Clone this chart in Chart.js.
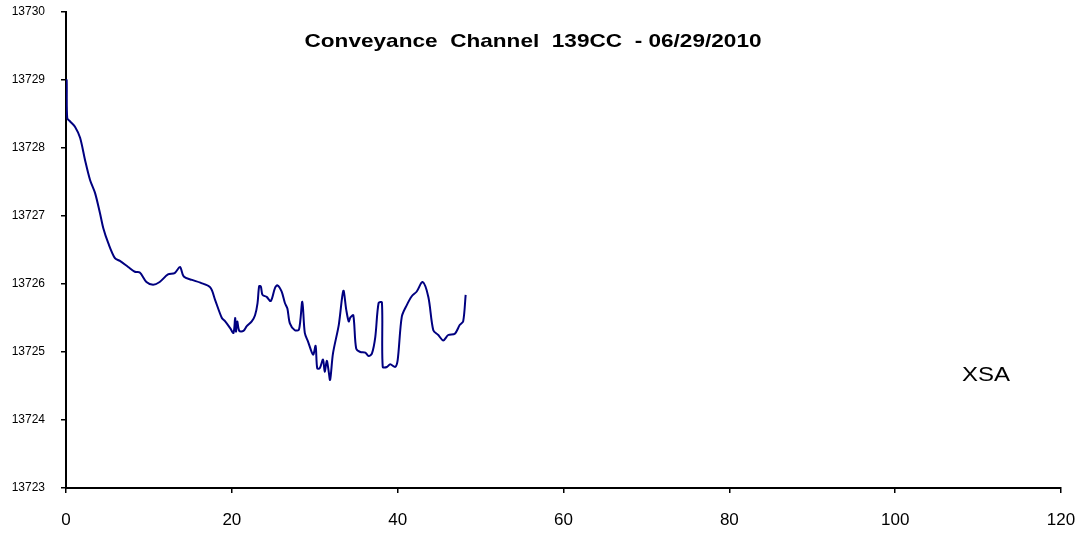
<!DOCTYPE html>
<html>
<head>
<meta charset="utf-8">
<script src="https://cdn.jsdelivr.net/npm/chart.js@4/dist/chart.umd.min.js"></script>
<style>
  html, body { margin: 0; padding: 0; background: #fff; }
  #wrap { width: 1086px; height: 533px; }
</style>
</head>
<body>
<div id="wrap"><canvas id="chart"></canvas></div>
<script>
// distance (x) and elevation (y)
const stations = [0, 0.08, 0.15, 0.5, 1.1, 1.7, 2.3, 2.9, 3.5, 4.1, 4.5, 5.1, 5.9, 6.5, 7.5, 8.3, 8.9, 9.7, 10.5, 11.3, 12.3, 13.1, 13.75, 14.2, 15.2, 16.2, 17.4,
  18.0, 18.8, 19.2, 19.8, 20.2, 20.4, 20.5, 20.65, 20.9, 21.4, 21.8, 22.4, 22.8, 23.1, 23.3, 23.5, 23.7, 24.2, 24.7, 25.2, 25.5, 26.0, 26.4, 26.7, 27.0, 27.6, 28.1,
  28.5, 28.8, 29.2, 29.8, 30.1, 30.3, 30.6, 31.0, 31.2, 31.45, 31.65, 31.85, 32.2, 32.9, 33.45, 33.8, 34.1, 34.3, 34.65, 35.0, 35.5, 36.1, 36.5, 36.9, 37.3,
  37.7, 38.1, 38.2, 38.7, 39.1, 39.7, 40.0, 40.5, 41.1, 41.7, 42.3, 43.0, 43.7, 44.3, 44.9, 45.5, 46.1, 46.9, 47.5, 47.9, 48.2];
const elevations = [13729.0, 13729.0, 13728.44, 13728.39, 13728.31, 13728.15, 13727.82, 13727.53, 13727.34, 13727.04, 13726.82, 13726.6, 13726.38, 13726.34, 13726.25, 13726.18, 13726.17, 13726.03, 13725.99, 13726.03, 13726.14, 13726.16, 13726.25, 13726.11, 13726.06, 13726.02, 13725.95,
  13725.76, 13725.5, 13725.45, 13725.35, 13725.28, 13725.5, 13725.3, 13725.45, 13725.31, 13725.31, 13725.38, 13725.45, 13725.54, 13725.72, 13725.97, 13725.96, 13725.84, 13725.81, 13725.75, 13725.94, 13725.98, 13725.89, 13725.72, 13725.64, 13725.42, 13725.32, 13725.33,
  13725.74, 13725.28, 13725.15, 13724.96, 13725.09, 13724.76, 13724.76, 13724.89, 13724.71, 13724.87, 13724.74, 13724.59, 13724.98, 13725.4, 13725.9, 13725.62, 13725.45, 13725.51, 13725.54, 13725.05, 13725.0, 13724.99, 13724.94, 13724.98, 13725.22,
  13725.72, 13725.73, 13724.78, 13724.78, 13724.82, 13724.78, 13724.88, 13725.52, 13725.69, 13725.82, 13725.89, 13726.03, 13725.81, 13725.32, 13725.25, 13725.17, 13725.25, 13725.27, 13725.4, 13725.45, 13725.84];

const titleText = 'Conveyance  Channel  139CC  - 06/29/2010';
const seriesLabel = 'XSA';
const xTicks = [0, 20, 40, 60, 80, 100, 120];
const yTicks = [13723, 13724, 13725, 13726, 13727, 13728, 13729, 13730];

// draws text stretched to a given width (the original renders wide)
function wideText(c, txt, cx, cy, w) {
  const m = c.measureText(txt).width;
  c.save();
  c.translate(cx, cy);
  c.scale(w / m, 1);
  c.fillText(txt, 0, 0);
  c.restore();
}

// title and series label sit inside the plot, like the original
const textPlugin = {
  id: 'innerText',
  afterDraw(chart) {
    const c = chart.ctx;
    c.save();
    c.fillStyle = '#000';
    c.textBaseline = 'middle';
    c.textAlign = 'center';
    c.font = 'bold 19px "Liberation Sans", Arial, sans-serif';
    wideText(c, titleText, 533, 42, 457);
    c.font = '21px "Liberation Sans", Arial, sans-serif';
    wideText(c, seriesLabel, 986, 375, 48);
    c.restore();
  }
};

// fixed box sizes, no extra label padding so the plot area lands where the original has it
function fixBox(size, dim) {
  return s => {
    s[dim] = size;
    s.paddingTop = 0; s.paddingBottom = 0; s.paddingLeft = 0; s.paddingRight = 0;
  };
}

new Chart(document.getElementById('chart'), {
  type: 'line',
  data: {
    datasets: [{
      label: seriesLabel,
      data: stations.map((x, i) => ({ x: x, y: elevations[i] })),
      borderColor: '#000080',
      borderWidth: 2,
      pointRadius: 0,
      tension: 0.3,
      fill: false
    }]
  },
  options: {
    responsive: true,
    maintainAspectRatio: false,
    animation: false,
    layout: { padding: { top: 12, right: 25, left: 0, bottom: 0 } },
    plugins: { legend: { display: false }, tooltip: { enabled: false } },
    scales: {
      x: {
        type: 'linear',
        min: 0, max: 120,
        afterBuildTicks: s => { s.ticks = xTicks.map(v => ({ value: v })); },
        afterFit: fixBox(45, 'height'),
        grid: { drawOnChartArea: false, drawTicks: true, tickLength: 5, color: '#000', lineWidth: 1.5 },
        border: { color: '#000', width: 2 },
        ticks: { color: '#000', padding: 17, maxRotation: 0, font: { family: '"Liberation Sans", Arial, sans-serif', size: 17 } }
      },
      y: {
        min: 13723, max: 13730,
        afterBuildTicks: s => { s.ticks = yTicks.map(v => ({ value: v })); },
        afterFit: fixBox(66, 'width'),
        grid: { drawOnChartArea: false, drawTicks: true, tickLength: 5, color: '#000', lineWidth: 1.5 },
        border: { color: '#000', width: 2 },
        ticks: { color: '#000', padding: 16, callback: v => String(v), font: { family: '"Liberation Sans", Arial, sans-serif', size: 12 } }
      }
    }
  },
  plugins: [textPlugin]
});
</script>
</body>
</html>
